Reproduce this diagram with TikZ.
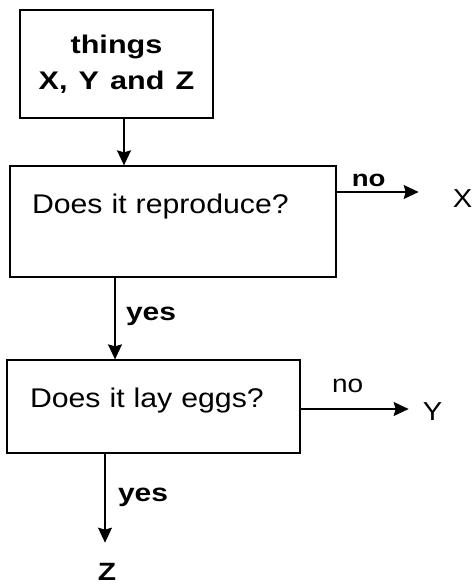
\documentclass[tikz,border=0pt]{standalone}
\usepackage{fontspec}
\setmainfont{Liberation Sans}[FakeStretch=1.12, WordSpace=1.3, BoldFeatures={FakeStretch=1.2}]
\usetikzlibrary{shapes.geometric, arrows, arrows.meta, positioning}
\tikzstyle{boxStart} = [rectangle, minimum width=193pt, minimum height=108pt, text centered, align=center, draw=black, line width=1.3pt, font=\fontsize{25.5}{36}\selectfont\bfseries]
\tikzstyle{boxQuestion} = [rectangle, inner xsep=22pt, inner ysep=0pt, align=left, draw=black, line width=1.3pt, font=\fontsize{27}{30}\selectfont]
\tikzstyle{arrow} = [line width=1.4pt, -{Stealth[length=15pt, width=14pt, inset=2pt]}]
\tikzstyle{answerBold} = [font=\fontsize{25}{30}\selectfont\bfseries]
\tikzstyle{answerPlain} = [font=\fontsize{25}{30}\selectfont]
\tikzstyle{leaf} = [font=\fontsize{26}{30}\selectfont]

\begin{document}
\begin{tikzpicture}
\useasboundingbox (0,0) rectangle (472pt,-585pt);

\node (things) [boxStart] at (116.5pt,-64pt) {things\\X, Y and Z};

\node (reproduce) [boxQuestion, below of=things, node distance=157.5pt, xshift=56.5pt,
  text width=282pt, text height=47.5pt, text depth=63.5pt] {Does it reproduce?};

\node (layeggs) [boxQuestion, below of=reproduce, node distance=185pt, xshift=-19.5pt,
  inner xsep=23pt, text width=247pt, text height=47pt, text depth=46pt] {Does it lay eggs?};

% first question
\draw [arrow] ([xshift=7.5pt]things.south) coordinate (s1) -- (s1 |- reproduce.north);
\draw [arrow] ([yshift=29.5pt]reproduce.east) -- ++(82pt,0)
  node (noX) [answerBold, font=\fontsize{23}{30}\selectfont\bfseries, pos=0.39, above=1pt] {no} coordinate (toX);
\node (X) [leaf] at ([xshift=44pt, yshift=-7pt]toX) {X};
\draw [arrow] ([xshift=-58pt]reproduce.south) coordinate (s2) -- (s2 |- layeggs.north)
  node (yesLay) [answerBold, pos=0.47, right=7pt] {yes};

% second question
\draw [arrow] ([yshift=-2.5pt]layeggs.east) -- ++(108pt,0)
  node (noY) [answerPlain, pos=0.435, above=12pt] {no} coordinate (toY);
\node (Y) [leaf] at ([xshift=24pt, yshift=-3pt]toY) {Y};
\draw [arrow] ([xshift=-48.5pt]layeggs.south) -- ++(0,-89pt)
  node (yesZ) [answerBold, pos=0.49, right=9pt] {yes} coordinate (toZ);
\node (Z) [answerBold] at ([xshift=2pt, yshift=-29pt]toZ) {Z};

\end{tikzpicture}
\end{document}
